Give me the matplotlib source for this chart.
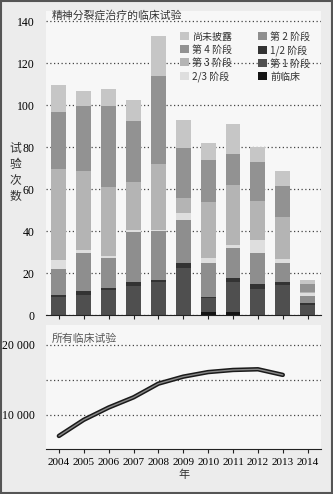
import matplotlib
matplotlib.use("Agg")
import matplotlib.pyplot as plt
from matplotlib.patches import Patch, Rectangle
import numpy as np

plt.rcParams['font.family'] = ['Liberation Serif', 'Noto Sans CJK SC']

# 数据
years = [2004, 2005, 2006, 2007, 2008, 2009, 2010, 2011, 2012, 2013, 2014]
phase_names = ['前临床', '第 1 阶段', '1/2 阶段', '第 2 阶段', '2/3 阶段', '第 3 阶段', '第 4 阶段', '尚未披露']
preclinical = [0, 0, 0, 0, 0, 0, 1.5, 1.5, 0, 0, 0]
phase1 = [8.5, 9.5, 11.7, 14.0, 15.5, 22.6, 6.7, 14.3, 12.6, 14.4, 5.0]
phase12 = [1.0, 2.0, 1.0, 1.5, 1.2, 2.0, 0.5, 1.7, 2.0, 1.3, 0.6]
phase2 = [12.5, 18.0, 14.5, 24.0, 23.3, 20.6, 15.9, 14.2, 14.8, 9.0, 3.6]
phase23 = [4.0, 1.7, 1.0, 1.0, 0.6, 3.2, 2.4, 1.8, 6.3, 2.1, 1.2]
phase3 = [43.5, 37.3, 33.0, 23.0, 31.3, 7.2, 27.0, 28.2, 18.7, 19.8, 0.4]
phase4 = [27.0, 31.0, 38.3, 29.0, 42.0, 24.0, 19.8, 15.0, 18.6, 15.0, 4.0]
undisclosed = [13.0, 7.0, 8.0, 10.0, 19.0, 13.5, 7.9, 14.3, 7.2, 7.0, 2.0]

line_years = [2004, 2005, 2006, 2007, 2008, 2009, 2010, 2011, 2012, 2013]
all_trials = [7000, 9300, 11050, 12500, 14450, 15450, 16100, 16400, 16500, 15700]

series = [preclinical, phase1, phase12, phase2, phase23, phase3, phase4, undisclosed]
colors = ['#141414', '#4f4f4f', '#333333', '#8e8e8e', '#dedede', '#b4b4b4', '#929292', '#c6c6c6']

fig = plt.figure(figsize=(3.33, 4.94), dpi=100, facecolor='#ececec')
fig.patches.append(Rectangle((0.003, 0.003), 0.994, 0.994, transform=fig.transFigure,
                             fill=False, edgecolor='#555555', lw=1.5))

# 上图：柱状
ax = fig.add_axes([0.138, 0.3623, 0.827, 0.6164])
ax.set_facecolor('#f7f7f7')
bottom = np.zeros(len(years))
for vals, c in zip(series, colors):
    ax.bar(years, vals, bottom=bottom, width=0.6, color=c, zorder=2)
    bottom += np.array(vals)

ax.set_xlim(2003.48, 2014.55)
ax.set_ylim(0, 145)
ax.set_yticks(range(0, 141, 20))
ax.yaxis.grid(True, linestyle=(0, (1, 2)), color='#444444', lw=0.9, zorder=0)
ax.set_xticks(years)
ax.set_xticklabels([])
ax.tick_params(axis='x', direction='out', length=3, width=0.8, color='#222222')
ax.tick_params(axis='y', length=0, labelsize=8.5, pad=8)
for s in ['top', 'right', 'left']:
    ax.spines[s].set_visible(False)
ax.spines['bottom'].set_color('#222222')

ax.text(0.02, 1.0, '精神分裂症治疗的临床试验', transform=ax.transAxes, fontsize=7.8,
        color='#333333', va='top', ha='left', family=['Noto Sans CJK SC'])
fig.text(0.046, 0.65, '试\n验\n次\n数', fontsize=8.5, color='#333333', va='center', ha='center',
         family=['Noto Sans CJK SC'], linespacing=1.3)

order = [7, 6, 5, 4, 3, 2, 1, 0]
handles = [Patch(facecolor=colors[i], edgecolor='none') for i in order]
labels = [phase_names[i] for i in order]
leg = ax.legend(handles, labels, ncol=2, frameon=False, loc='upper left',
                bbox_to_anchor=(0.455, 0.96), handlelength=0.9,
                handleheight=0.9, handletextpad=0.3, columnspacing=2.6, labelspacing=0.3,
                prop={'family': ['Noto Sans CJK SC'], 'size': 7.2})
for t in leg.get_texts():
    t.set_color('#333333')

# 下图：折线
ax2 = fig.add_axes([0.138, 0.0905, 0.827, 0.2515])
ax2.set_facecolor('#f7f7f7')
ax2.plot(line_years, all_trials, color='#1a1a1a', lw=3.2, solid_capstyle='round', zorder=3)
ax2.plot(line_years, all_trials, color='#888888', lw=1.0, solid_capstyle='round', zorder=4)
ax2.set_xlim(2003.48, 2014.55)
ax2.set_ylim(5100, 22800)
ax2.set_yticks([10000, 20000])
ax2.set_yticklabels(['10 000', '20 000'])
for g in [10000, 15000, 20000]:
    ax2.axhline(g, linestyle=(0, (1, 2)), color='#444444', lw=0.9, zorder=0)
ax2.set_xticks(years)
ax2.set_xticklabels([str(y) for y in years])
ax2.tick_params(axis='x', direction='out', length=3, width=0.8, labelsize=8, pad=3, color='#222222')
ax2.tick_params(axis='y', length=0, labelsize=8.5, pad=8)
for s in ['top', 'right', 'left']:
    ax2.spines[s].set_visible(False)
ax2.spines['bottom'].set_color('#222222')
ax2.set_xlabel('年', fontsize=8, color='#333333', family=['Noto Sans CJK SC'], labelpad=2)
ax2.text(0.02, 0.93, '所有临床试验', transform=ax2.transAxes, fontsize=7.8,
         color='#555555', va='top', ha='left', family=['Noto Sans CJK SC'])

fig.savefig('out.png', dpi=100, facecolor=fig.get_facecolor())
